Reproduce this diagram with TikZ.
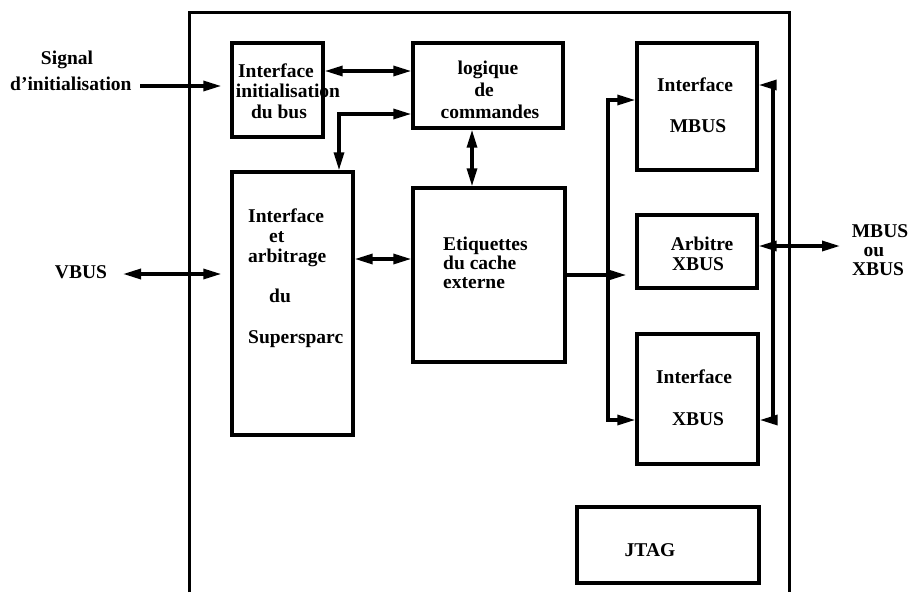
\documentclass[tikz,border=0pt]{standalone}
\usepackage{fontspec}
\setmainfont{Liberation Serif}
\usetikzlibrary{arrows.meta,fit}
\tikzset{
  blk/.style={draw, line width=3.4pt, inner sep=0pt, rectangle},
  txt/.style={font=\fontsize{19.5}{20}\selectfont\bfseries, inner sep=0pt},
  arr/.style={line width=3.2pt, -{Triangle[length=18pt,width=10pt]}},
  darr/.style={line width=3.2pt, {Triangle[length=18pt,width=10pt]}-{Triangle[length=18pt,width=10pt]}},
  frame/.style={line width=3pt},
}
\begin{document}
\begin{tikzpicture}[x=1pt,y=-1pt]
\useasboundingbox (0,0) rectangle (910,592);
% outer frame (open at the bottom)
\draw[frame] (189,592) -- (189,12) -- (789,12) -- (789,592);

% blocks
\node[blk, fit={(232,43) (323,137)}] (init) {};
\node[blk, fit={(413,43) (563,128)}] (logic) {};
\node[blk, fit={(637,43) (757,170)}] (mbus) {};
\node[blk, fit={(232,172) (353,435)}] (super) {};
\node[blk, fit={(413,188) (565,362)}] (etiq) {};
\node[blk, fit={(637,215) (757,288)}] (arb) {};
\node[blk, fit={(637,334) (758,464)}] (xif) {};
\node[blk, fit={(577,507) (759,583)}] (jtag) {};

% texts
\node[txt, anchor=base] (tsig1) at (67,64) {Signal};
\node[txt, anchor=base west] (tsig2) at (10,90) {d’initialisation};
\node[txt, anchor=base] (tvbus) at (81,278) {VBUS};

\node[txt, anchor=base] (tinit1) at (276,77) {Interface};
\node[txt, anchor=base] (tinit2) at (288,97) {initialisation};
\node[txt, anchor=base] (tinit3) at (279,118) {du bus};

\node[txt, anchor=base] (tlog1) at (488,74) {logique};
\node[txt, anchor=base] (tlog2) at (484,96) {de};
\node[txt, anchor=base] (tlog3) at (490,118) {commandes};

\node[txt, anchor=base] (tmb1) at (695,91) {Interface};
\node[txt, anchor=base] (tmb2) at (698,132) {MBUS};

\node[txt, anchor=base west] (tsup1) at (248,222) {Interface};
\node[txt, anchor=base west] (tsup2) at (269,242) {et};
\node[txt, anchor=base west] (tsup3) at (248,262) {arbitrage};
\node[txt, anchor=base west] (tsup4) at (269,302) {du};
\node[txt, anchor=base west] (tsup5) at (248,343) {Supersparc};

\node[txt, anchor=base west] (tet1) at (443,250) {Etiquettes};
\node[txt, anchor=base west] (tet2) at (443,269) {du cache};
\node[txt, anchor=base west] (tet3) at (443,288) {externe};

\node[txt, anchor=base] (tarb1) at (702,250) {Arbitre};
\node[txt, anchor=base] (tarb2) at (698,270) {XBUS};

\node[txt, anchor=base] (txif1) at (694,383) {Interface};
\node[txt, anchor=base] (txif2) at (698,425) {XBUS};

\node[txt, anchor=base] (tjtag) at (650,556) {JTAG};

\node[txt, anchor=base] (tmx1) at (880,237) {MBUS};
\node[txt, anchor=base] (tmx2) at (874,256) {ou};
\node[txt, anchor=base] (tmx3) at (878,275) {XBUS};

% free ends / junctions
\coordinate (sigin) at (140,86);
\coordinate (vbusL) at (123,274);
\coordinate (bj) at (608,275);
\coordinate (rj) at (773,249);
\coordinate (mxend) at (840,246);

% connectors
\draw[arr, shorten >=9pt] (sigin) -- (sigin -| init.west);
\draw[darr, shorten >=9pt] (vbusL) -- (vbusL -| super.west);
\draw[darr] ([yshift=19pt]init.east) -- ([yshift=19pt]init.east -| logic.west);
\draw[darr] ([yshift=-28.5pt]logic.west) -| ([xshift=46.5pt]super.north);
\draw[darr] ([xshift=-16pt]logic.south) -- ([xshift=-16pt]logic.south |- etiq.north);
\draw[darr] ([yshift=44.5pt]super.east) -- ([yshift=44.5pt]super.east -| etiq.west);
\draw[arr, shorten >=9pt] (etiq.east) -- (etiq.east -| arb.west);
\draw[arr] (bj) |- ([yshift=6.5pt]mbus.west);
\draw[arr] (bj) |- ([yshift=-21pt]xif.west);
\draw[darr] ([yshift=21.5pt]mbus.east) -| (rj) |- ([yshift=-21pt]xif.east);
\draw[darr] ([yshift=5.5pt]arb.east) -- (mxend);
\end{tikzpicture}
\end{document}
